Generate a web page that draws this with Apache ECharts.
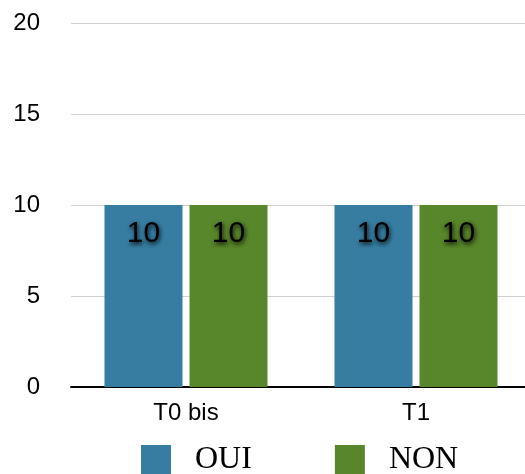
<!DOCTYPE html>
<html><head><meta charset="utf-8">
<script src="https://cdn.jsdelivr.net/npm/echarts@6/dist/echarts.min.js"></script>
<style>html,body{margin:0;padding:0;background:#fff}#c{width:525px;height:474px}</style>
</head><body><div id="c"></div>
<script>
const categories = ['T0 bis', 'T1'];
const seriesNames = ['OUI', 'NON'];
const ouiValues = [10, 10];
const nonValues = [10, 10];
const yTicks = [0, 5, 10, 15, 20];

const chart = echarts.init(document.getElementById('c'), null, {renderer: 'canvas'});
const labelStyle = {
  show: true, position: 'insideTop', distance: 14,
  fontFamily: 'Liberation Sans', fontSize: 30, color: '#000',
  textShadowColor: 'rgba(0,0,0,0.9)', textShadowBlur: 4, textShadowOffsetX: 1, textShadowOffsetY: 2
};
chart.setOption({
  animation: false,
  grid: {left: 71, width: 460, top: 23, bottom: 87, outerBoundsMode: 'none'},
  legend: {
    top: 439, left: 136, itemWidth: 30, itemHeight: 30, itemGap: 83, icon: 'rect',
    textStyle: {fontFamily: 'Liberation Serif', fontSize: 32, color: '#000', padding: [0, 0, 0, 19]},
    data: seriesNames
  },
  xAxis: {
    type: 'category', data: categories,
    axisLine: {lineStyle: {color: '#000', width: 2}},
    axisTick: {show: false},
    axisLabel: {fontFamily: 'Liberation Sans', fontSize: 24, color: '#000', margin: 14}
  },
  yAxis: {
    type: 'value', min: yTicks[0], max: yTicks[yTicks.length - 1], interval: 5,
    axisLine: {show: false}, axisTick: {show: false},
    splitLine: {lineStyle: {color: '#d0d0d0', width: 1}},
    axisLabel: {fontFamily: 'Liberation Sans', fontSize: 24, color: '#000', margin: 31}
  },
  series: [
    {name: seriesNames[0], type: 'bar', data: ouiValues, barWidth: 78, barGap: '9%',
     itemStyle: {color: '#367da1'}, label: labelStyle},
    {name: seriesNames[1], type: 'bar', data: nonValues, barWidth: 78,
     itemStyle: {color: '#58862a'}, label: labelStyle}
  ]
});
</script></body></html>
